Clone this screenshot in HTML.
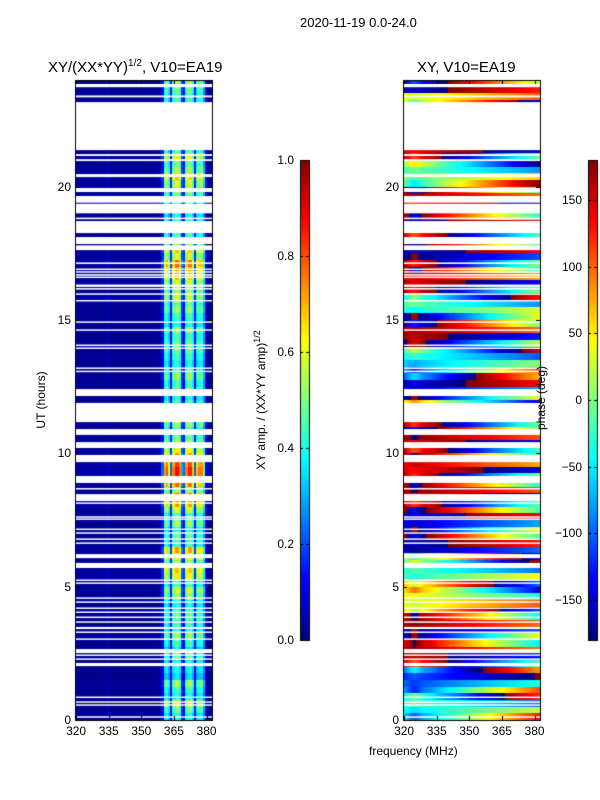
<!DOCTYPE html>
<html><head><meta charset="utf-8">
<style>
body{margin:0;background:#fff;width:600px;height:800px;position:relative;overflow:hidden;font-family:"Liberation Sans",sans-serif;}
.t{position:absolute;font-size:12px;color:#000;white-space:nowrap;}
canvas{position:absolute;left:0;top:0;}
</style></head>
<body>
<canvas id="c" width="600" height="800"></canvas>
<div class="t" style="left:300px;top:15px;font-size:13px">2020-11-19 0.0-24.0</div>
<div class="t" style="left:48px;top:58px;font-size:15px">XY/(XX*YY)<sup style="font-size:10px">1/2</sup>, V10=EA19</div>
<div class="t" style="left:417px;top:59px;font-size:15px">XY, V10=EA19</div>
<div class="t" style="left:41px;top:400px;transform:translate(-50%,-50%) rotate(-90deg)">UT (hours)</div>
<div class="t" style="left:369px;top:744px">frequency (MHz)</div>
<div class="t" style="left:260px;top:400px;transform:translate(-50%,-50%) rotate(-90deg)">XY amp. / (XX*YY amp)<sup style="font-size:9px">1/2</sup></div>
<div class="t" style="left:541px;top:398px;transform:translate(-50%,-50%) rotate(-90deg)">phase (deg)</div>
<div id="labels"></div>
<script>
const freqs=[];for(let f=320;f<=382;f++)freqs.push(f);
const colAmp=[0.02,0.02,0.02,0.02,0.02,0.02,0.02,0.02,0.02,0.02,0.02,0.02,0.02,0.02,0.02,0.05,0.02,0.02,0.02,0.02,0.02,0.02,0.02,0.02,0.02,0.02,0.02,0.02,0.02,0.02,0.02,0.02,0.02,0.02,0.02,0.02,0.02,0.02,0.03,0.04,
0.12,0.38,0.42,0.33,0.12,0.4,0.46,0.46,0.4,0.16,0.12,0.4,0.45,0.45,0.36,0.12,0.36,0.4,0.4,0.26,0.05,0.03,0.03];
const rowGain=[0.9,1.1,1.3,0.9,1.0,1.2,0.8,0.9, 0.9,1.1,0.8,1.0,1.2,0.9,1.0,1.1, 1.0,0.9,1.2,1.3,1.0,1.4,1.5,1.2, 1.4,1.6,1.0,1.1,0.9,1.2,1.0,1.3, 1.6,1.7,1.2,1.7,1.9,1.9,1.8,1.6, 1.4,1.2,1.1,1.0,1.2,1.3,1.0,1.0, 0.9,1.1,1.0,1.2,1.0,0.9,1.0,1.1, 1.1,1.0,1.2,0.9,1.0,1.2,1.1,1.3, 1.2,1.3,1.5,1.6,1.7,1.3,1.5,1.2, 1.0,1.1,1.0,0.9,1.1,1.0,1.1,1.2, 1.3,1.5,1.2,1.1,1.4,1.0,1.0,1.0, 1.0,1.0,1.0,1.0,1.0,1.0,1.1,1.2];
const rowPhase=[-60,-40,-30,-50,-80,-100,-120,-90, 150,170,160,140,-150,-170,160,150, 60,40,30,50,70,-20,-30,-10, 20,-160,-170,170,-150,-140,-160,170, 160,150,170,160,165,150,140,150, 150,160,170,-170,160,20,30,40, -150,-140,-160,-100,-80,-60,-40,-20, -170,170,160,-170,-150,-30,-20,-40, 170,160,140,160,170,-170,-160,170, 150,170,-170,160,150,140,160,170, -10,0,-20,10,160,150,140,160, 160,150,170,160,30,40,-170,-150];
const colPhase=[0,10,25,40,50,55,50,40,30,20,15,10,5,0,-5,-10,-20,-25,-30,-35,-40,-45,-50,-55,-60,-65,-70,-75,-80,-85,-90,-95,-100,-105,-110,-115,-120,-125,-130,-135,-140,-145,-150,-155,-160,-165,-170,-175,-180,-185,-190,-195,-200,-205,-210,-215,-220,-225,-230,-235,-240,-245,-250];
const gaps=[[23.73,23.85],[23.35,23.42],[21.37,23.17],[21.15,21.22],[20.96,21.03],[20.36,20.47],[19.8,19.95],[19.4,19.65],[19.0,19.36],[18.78,18.84],[18.26,18.71],[17.85,18.11],[17.62,17.8],[17.1,17.16],[16.88,16.93],[16.78,16.83],[16.66,16.72],[16.58,16.63],[16.24,16.33],[16.14,16.2],[15.96,16.0],[15.7,15.75],[14.9,14.95],[14.6,14.65],[14.04,14.08],[13.93,13.97],[13.18,13.22],[13.06,13.1],[12.15,12.41],[11.17,11.89],[10.69,10.91],[10.2,10.42],[9.67,9.94],[8.89,9.15],[8.66,8.7],[8.21,8.47],[8.12,8.16],[7.6,7.64],[7.52,7.56],[7.14,7.18],[7.0,7.04],[6.77,6.81],[6.62,6.66],[6.07,6.22],[5.7,5.89],[5.23,5.27],[5.12,5.16],[4.55,4.6],[4.41,4.45],[4.18,4.22],[4.03,4.07],[3.84,3.88],[3.66,3.7],[3.41,3.49],[3.28,3.32],[3.02,3.06],[2.51,2.66],[2.42,2.46],[2.27,2.31],[2.02,2.14],[0.84,0.88],[0.66,0.7],[0.55,0.59],[0.1,0.14]];
const yTicks=[0,5,10,15,20];
const xTicks=[320,335,350,365,380];
const ampTicks=[0.0,0.2,0.4,0.6,0.8,1.0];
const phTicks=[-150,-100,-50,0,50,100,150];

const ctx=document.getElementById('c').getContext('2d');
const labels=document.getElementById('labels');
const T=80,B=720,H0=0,H1=24;
const yS=h=>B-(h-H0)/(H1-H0)*(B-T);
const panels=[{x0:75,name:'amp'},{x0:403,name:'phase'}];
const W=137,F0=319.5,F1=382.5;
function jet(v){v=Math.max(0,Math.min(1,v));
 const r=Math.max(0,Math.min(1,1.5-Math.abs(4*v-3))),g=Math.max(0,Math.min(1,1.5-Math.abs(4*v-2))),b=Math.max(0,Math.min(1,1.5-Math.abs(4*v-1)));
 return `rgb(${r*255|0},${g*255|0},${b*255|0})`;}
function wrap(p){while(p>180)p-=360;while(p<-180)p+=360;return p;}
function lab(txt,x,y,name,align){const d=document.createElement('div');d.className='t';d.textContent=txt;
 
 
 d.style.left=x+'px';d.style.top=y+'px';d.style.transform=align;labels.appendChild(d);}
panels.forEach((p,pi)=>{
 const xS=f=>p.x0+(f-F0)/(F1-F0)*W;
 for(let r=0;r<rowGain.length;r++){
  const ya=Math.round(yS(r*0.25+0.25)),yb=Math.round(yS(r*0.25));
  for(let c=0;c<freqs.length;c++){
   const xa=Math.floor(xS(freqs[c]-0.5)),xb=Math.ceil(xS(freqs[c]+0.5));
   let col;
   if(pi===0) col=jet(colAmp[c]*rowGain[r]);
   else col=jet((wrap(rowPhase[r]+colPhase[c]*((r%4)-1.5)*0.5)+180)/360);
   ctx.fillStyle=col;ctx.fillRect(xa,ya,Math.min(xb,p.x0+W)-xa,yb-ya);
  }
 }
 ctx.fillStyle='#fff';
 gaps.forEach(g=>{const a=yS(g[1]),b=yS(g[0]);ctx.fillRect(p.x0,a,W,Math.max(1.5,b-a));});
 ctx.strokeStyle='#000';ctx.lineWidth=1;ctx.strokeRect(p.x0+0.5,T+0.5,W,B-T);
 yTicks.forEach(t=>{const y=Math.round(yS(t))+0.5;ctx.beginPath();ctx.moveTo(p.x0,y);ctx.lineTo(p.x0+4,y);ctx.moveTo(p.x0+W,y);ctx.lineTo(p.x0+W-4,y);ctx.stroke();
  lab(String(t),p.x0-4,yS(t),'y-tick-label','translate(-100%,-50%)');});
 xTicks.forEach(t=>{const x=Math.round(xS(t))+0.5;ctx.beginPath();ctx.moveTo(x,B);ctx.lineTo(x,B-4);ctx.moveTo(x,T);ctx.lineTo(x,T+4);ctx.stroke();
  lab(String(t),xS(t),B+4,'x-tick-label','translate(-50%,0)');});
});
const cbs=[{x:300,ticks:ampTicks,min:0,max:1,fmt:v=>v.toFixed(1)},{x:588,ticks:phTicks,min:-180,max:180,fmt:v=>v<0?'\u2212'+(-v):String(v)}];
cbs.forEach(cb=>{
 for(let y=160;y<640;y++){ctx.fillStyle=jet((640-y-0.5)/480);ctx.fillRect(cb.x,y,9,1);}
 ctx.strokeStyle='#000';ctx.strokeRect(cb.x+0.5,160.5,9,480);
 cb.ticks.forEach(t=>{const y=640-(t-cb.min)/(cb.max-cb.min)*480;const yy=Math.round(y)+0.5;
  ctx.beginPath();ctx.moveTo(cb.x,yy);ctx.lineTo(cb.x+3,yy);ctx.moveTo(cb.x+9,yy);ctx.lineTo(cb.x+6,yy);ctx.stroke();
  lab(cb.fmt(t),cb.x-6,y,'colorbar-tick-label','translate(-100%,-50%)');});
});
</script>
</body></html>
